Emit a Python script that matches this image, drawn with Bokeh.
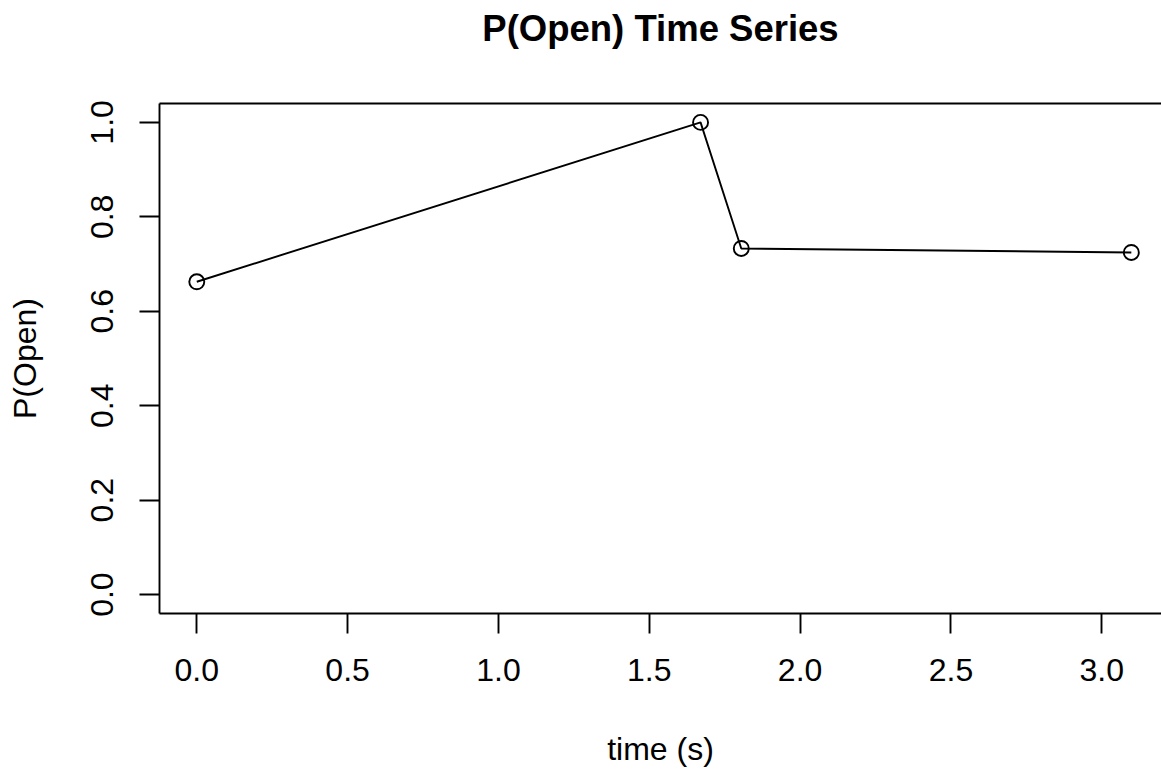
from bokeh.plotting import figure
from bokeh.models import Range1d, FixedTicker, PrintfTickFormatter, LinearAxis, ColumnDataSource, Title
from bokeh.embed import file_html
from bokeh.resources import INLINE

time_s = [0.0, 1.670, 1.805, 3.098]
p_open = [0.6625, 1.0, 0.733, 0.7246]
x_ticks = [0.0, 0.5, 1.0, 1.5, 2.0, 2.5, 3.0]
y_ticks = [0.0, 0.2, 0.4, 0.6, 0.8, 1.0]
title_text = "P(Open) Time Series"

FONT = "Liberation Sans"

src = ColumnDataSource(data=dict(x=time_s, y=p_open))

p = figure(width=1161, height=771, output_backend="svg", toolbar_location=None,
           x_range=Range1d(-0.1236, 3.198), y_range=Range1d(-0.04, 1.04),
           x_axis_label="time (s)", y_axis_label="P(Open)",
           min_border_left=159, min_border_right=0, min_border_top=103, min_border_bottom=158)
p.title = None

p.xgrid.visible = False
p.ygrid.visible = False
p.outline_line_color = None
p.background_fill_color = "white"
p.border_fill_color = "white"

for ax in (p.xaxis[0], p.yaxis[0]):
    ax.axis_line_color = "black"
    ax.axis_line_width = 1.9
    ax.major_tick_line_color = "black"
    ax.major_tick_line_width = 1.9
    ax.major_tick_out = 20
    ax.major_tick_in = 0
    ax.minor_tick_line_color = None
    ax.major_label_text_font = FONT
    ax.major_label_text_font_size = "32px"
    ax.major_label_text_color = "black"
    ax.axis_label_text_font = FONT
    ax.axis_label_text_font_size = "32px"
    ax.axis_label_text_font_style = "normal"
    ax.axis_label_text_color = "black"
    ax.formatter = PrintfTickFormatter(format="%.1f")

p.xaxis[0].ticker = FixedTicker(ticks=x_ticks)
p.yaxis[0].ticker = FixedTicker(ticks=y_ticks)
p.yaxis[0].major_label_orientation = "vertical"
p.xaxis[0].major_label_standoff = 25
p.yaxis[0].major_label_standoff = 26
p.xaxis[0].axis_label_standoff = 47
p.yaxis[0].axis_label_standoff = 46

top = LinearAxis(ticker=FixedTicker(ticks=[]), major_tick_line_color=None,
                 minor_tick_line_color=None, major_label_text_font_size="0px",
                 axis_line_color="black", axis_line_width=1.9)
p.add_layout(top, "above")

spacer = Title(text=" ", text_font_size="48px", standoff=0)
p.add_layout(spacer, "above")

main_title = Title(text=title_text, text_font=FONT, text_font_size="36.5px",
                   text_font_style="bold", align="center", text_color="black", standoff=0)
p.add_layout(main_title, "above")

p.line("x", "y", source=src, line_color="black", line_width=1.9)
p.scatter("x", "y", source=src, marker="circle", size=15, fill_color="white",
          fill_alpha=0.0, line_color="black", line_width=1.9)

open("out.html", "w").write(file_html(p, INLINE))
